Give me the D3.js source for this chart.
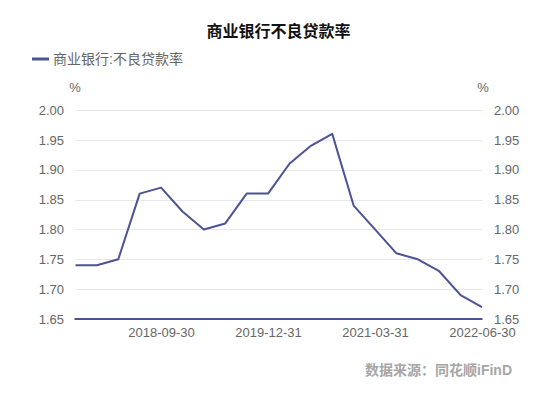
<!DOCTYPE html>
<html><head><meta charset="utf-8">
<script src="https://cdn.jsdelivr.net/npm/d3@7"></script>
<style>body{margin:0;background:#fff}svg{display:block}text{font-family:"Liberation Sans",Arial,"Noto Sans CJK SC",sans-serif}</style>
</head><body><svg id="c" width="558" height="393"></svg>
<script>
const dates = ["2017-09-30","2017-12-31","2018-03-31","2018-06-30","2018-09-30","2018-12-31","2019-03-31","2019-06-30","2019-09-30","2019-12-31","2020-03-31","2020-06-30","2020-09-30","2020-12-31","2021-03-31","2021-06-30","2021-09-30","2021-12-31","2022-03-31","2022-06-30"];
const values = [1.74,1.74,1.75,1.86,1.87,1.83,1.80,1.81,1.86,1.86,1.91,1.94,1.96,1.84,1.80,1.76,1.75,1.73,1.69,1.67];
const xTickLabels = ["2018-09-30","2019-12-31","2021-03-31","2022-06-30"];
const yTicks = [1.65,1.70,1.75,1.80,1.85,1.90,1.95,2.00];
const title = "商业银行不良贷款率";
const seriesName = "商业银行:不良贷款率";
const source = "数据来源：同花顺iFinD";
const color = "#4b5394";

const svg = d3.select("#c");
const L = 75.5, R = 482.5, T = 110, B = 319;
const x = d3.scalePoint().domain(dates).range([L, R-0.5]);
const y = d3.scaleLinear().domain([1.65, 2.00]).range([B, T]);

svg.append("text").attr("x", 278.5).attr("y", 37).attr("text-anchor","middle")
  .attr("font-size", 16).attr("font-weight","bold").attr("fill","#111").text(title);
svg.append("line").attr("x1",32).attr("x2",49).attr("y1",59).attr("y2",59).attr("stroke",color).attr("stroke-width",3);
svg.append("text").attr("x",53).attr("y",64).attr("font-size",14).attr("fill","#666").text(seriesName);

// grid
svg.append("g").selectAll("line").data(yTicks.filter(d=>d>1.65)).join("line")
  .attr("x1",L).attr("x2",R).attr("y1",d=>Math.round(y(d))+0.5).attr("y2",d=>Math.round(y(d))+0.5)
  .attr("stroke","#e6e7ef").attr("stroke-width",1);

const fmt = d3.format(".2f");
const yl = d3.axisLeft(y).tickValues(yTicks).tickFormat(fmt).tickSize(0).tickPadding(0);
const gl = svg.append("g").attr("transform",`translate(64,0)`).call(yl);
const yr = d3.axisRight(y).tickValues(yTicks).tickFormat(fmt).tickSize(0).tickPadding(0);
const gr = svg.append("g").attr("transform",`translate(494,0)`).call(yr);
[gl,gr].forEach(g=>{g.select(".domain").remove();g.selectAll("text").attr("font-size",13).attr("fill","#666").attr("font-family",'"Liberation Sans",Arial,sans-serif');});
svg.append("text").attr("x",75).attr("y",92).attr("text-anchor","middle").attr("font-size",13).attr("fill","#666").text("%");
svg.append("text").attr("x",483).attr("y",92).attr("text-anchor","middle").attr("font-size",13).attr("fill","#666").text("%");

const xa = d3.axisBottom(x).tickValues(xTickLabels).tickSize(0).tickPadding(9);
const gx = svg.append("g").attr("transform",`translate(0,${B})`).call(xa);
gx.select(".domain").remove();
gx.selectAll("text").attr("font-size",13).attr("fill","#666").attr("font-family",'"Liberation Sans",Arial,sans-serif');
svg.append("line").attr("x1",L-1).attr("x2",R).attr("y1",B).attr("y2",B).attr("stroke",color).attr("stroke-width",2);

svg.append("path").datum(values).attr("fill","none").attr("stroke",color).attr("stroke-width",2)
  .attr("stroke-linejoin","round")
  .attr("d", d3.line().x((d,i)=>x(dates[i])).y(d=>y(d)));

svg.append("text").attr("x",512).attr("y",375).attr("text-anchor","end").attr("font-size",14)
  .attr("font-weight","bold").attr("fill","#a6a6a6").text(source);
</script></body></html>
